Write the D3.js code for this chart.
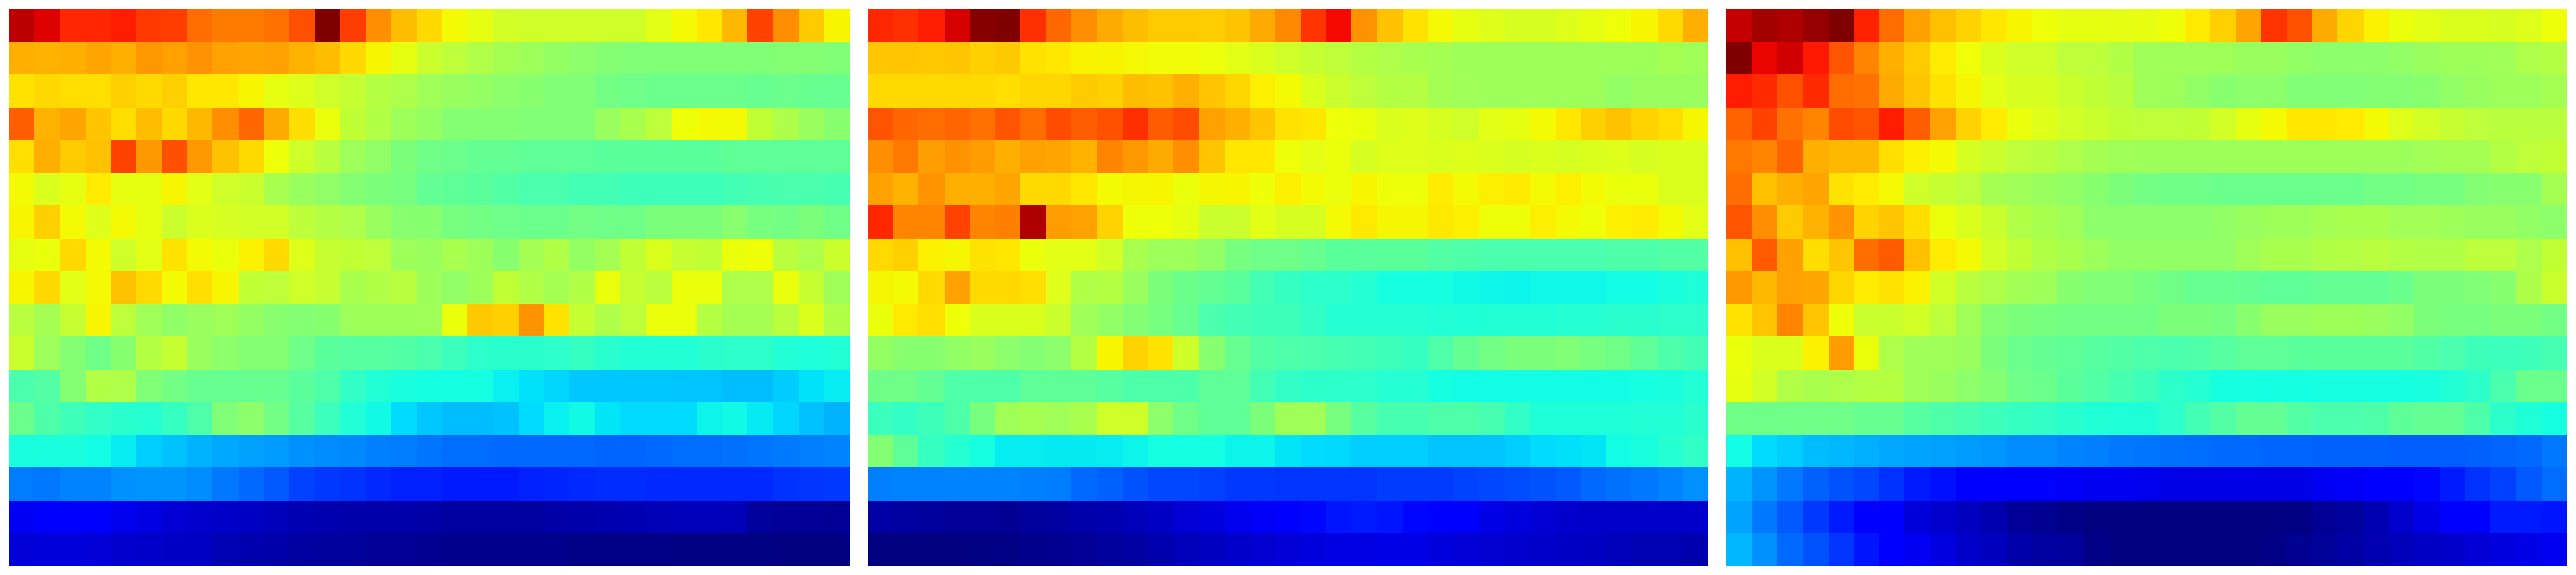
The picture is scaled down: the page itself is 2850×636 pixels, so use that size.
<!DOCTYPE html>
<html>
<head>
<meta charset="utf-8">
<style>html,body{margin:0;padding:0;background:#fff;overflow:hidden}svg{display:block}</style>
<script src="https://cdn.jsdelivr.net/npm/d3@7/dist/d3.min.js"></script>
</head>
<body>
<svg id="chart" width="2850" height="636"></svg>
<script>
const leftPanel = [
[95,92,87,87,88,85,84.5,79.5,78,78,79,82.5,100,84.5,76,71,68,64.5,63,60.5,60,60,60,60,60,62.5,64.5,66.5,71.5,84,76,69.5,65],
[72.5,72,72.5,73.5,72.5,75,74,75.5,74,73.5,74,72,71,68,65,63,59.5,58,56.5,55,54,53,52,51,50.5,50.5,50.5,50.5,50.5,50.5,51,51,50.5],
[67,68,67.5,67.5,69,68,69,66.5,66.5,65,63,62,60,59,57,56,54.5,53.5,53,52,51.5,50.5,50.5,49,48.5,48,48,48,48,47.5,48,47.5,47.5],
[81,72,73.5,70,67.5,71,68,71.5,76,80,73,67.5,63.5,58.5,56.5,54,53,51,51,51,50.5,50.5,50.5,53.5,55.5,58,64,64.5,64.5,58.5,56,53.5,51.5],
[67.5,72.5,69.5,70.5,84,75,82.5,75,70.5,68,64,60,57.5,54,52.5,50,48.5,48,47,47,46.5,46.5,46.5,46,46,46,46,46,46.5,46.5,46.5,46.5,46.5],
[64.5,61.5,63,66,63,63,65,62.5,60,59.5,55.5,53.5,52.5,51,50,49.5,47,46.5,46,45,44,44,43,43,42.5,42.5,42.5,42.5,43,43.5,44,44,43.5],
[65,69,64.5,62,64.5,63,59.5,61.5,61,60.5,60.5,58,57,56,53.5,51.5,51.5,49.5,49,48.5,48,48,49,48.5,48.5,50,50,50,51.5,49.5,49,50,48.5],
[63,63.5,68,64.5,60,62.5,67,64.5,63.5,65.5,68,62,59,58.5,58,54,53.5,55.5,54,51.5,55,56.5,53,55,58.5,61.5,59,58.5,63.5,64,57.5,56,59.5],
[65,68,62.5,64.5,70.5,68,64.5,67.5,65,58.5,58,60,59,55.5,56.5,57.5,54,52.5,54,58.5,56.5,55,56.5,63.5,59,57.5,63.5,63.5,56,56,63.5,59,54.5],
[57.5,55,59,65,58,54.5,52.5,53.5,54.5,53,51.5,51,51.5,54,54,54,54.5,63.5,69.5,69,75.5,67,59,56,58,63.5,63.5,57,55,55,57.5,61.5,56.5],
[59.5,54,51,48.5,51.5,57,59,53.5,52,51,51,48.5,46,45.5,45.5,45,44,42,40.5,40,40,40.5,41.5,40,39,39,39,40,40.5,40.5,39,38.5,39],
[44,45,51,56.5,56,50.5,49,47.5,47.5,47.5,47.5,46,44.5,41,39,38,37.5,37.5,37.5,36,34.7,33.5,32,32,32,32,31.7,31.7,31,31,32.5,34.7,35.7],
[48,44.5,42.5,41,40,39.5,41.5,44.5,50.5,52,49,45.5,42,39,37,34,32,31,31,31.5,34,36,37,35,34,34,34,36.5,37,35.5,33.5,31.5,30],
[38,38,38,37.3,35.7,32.7,31.5,30,29,28.2,27.7,26.7,26.2,25.8,25,24.7,24,23.2,23.2,22.8,22.8,22.8,22.8,22.4,22.4,22.8,23.2,23.2,23.6,24,24.6,25,25.3],
[24.7,24.3,25.3,25.3,26.7,27,27,26.2,24.3,22.8,21.3,19,18,17.4,16.4,15.6,15.6,15,15,15,15.6,16,16.4,16.8,16.8,16.4,16.4,16.4,16.4,16.4,17.4,17.8,18],
[10,11.5,11.5,11.5,9.5,8.5,7.3,6.7,6.3,5.7,5,4.4,4,3.7,3.7,3.7,3.3,2.9,2.9,2.9,2.9,3.3,3.7,4,4.4,4.8,5,5,4.8,2.5,2.2,2,1.8],
[7.5,7.8,7.8,7.5,6.7,6.3,6,5.7,4.5,4,3.7,2.9,2.5,2.5,1.8,1.8,1.4,1,1,1,1,1,0.6,0.6,0.6,0.6,0.3,0.3,0.3,0.2,0,0,0]
];
const middlePanel = [
[87,86,88,92.5,99.5,100,86,80,76,73,71,69.5,69.5,69.2,70.3,73,76.5,85.5,90,75.5,70.5,67,64.5,63,62,61,61,62,63,64,65,68,72.5],
[70,70,69.8,70,69,69.5,67,66.5,65.3,65.2,64.7,64.3,64.3,63.8,62.5,61.5,60,59,58,57,56,55.5,55,54,54,54,54,54,54,54,54,55,54.5],
[68,68,68,68,68,67.5,68.5,68.3,69.5,69,71,70.5,72.5,70,68.5,65.7,64.5,61.5,59.5,58,57,57,55,54.5,54,54,54,54,54,52.7,53.5,53.5,53.5],
[82,80,79.5,80.3,79,82,79.5,83,81,82.5,86,81.3,83,74,72.5,70,67,66.5,64,63.5,61.5,62,61,60,62.5,63,64.5,66.5,69,70.5,68.7,67.5,64.8],
[76,78.3,74.3,75.5,74.5,72.5,74,73.5,72,77,75,73,76,70,66.5,66.5,64,62.7,63.5,61,62,62,61.5,62,61.5,61,61.5,61,61.5,62,61,61.5,61.5],
[74,72,75.3,72.5,72.5,73.5,68,68,66.5,64.5,64.8,65,63.5,64.8,65,64,65.7,64.5,63.5,65,64,64,66,64.5,65.7,66.2,64.5,65.7,64.5,63.5,63.5,61.5,61.5],
[87,77,77,84,77,77.5,96,74.5,74,68.7,64,64,63,59.5,59.5,62.5,61,61,64.5,66.3,64.8,64.8,66.3,65.7,64,64,65.7,64.5,64,65.7,66,64.5,62.5],
[68,69,65.5,64.8,67,66.5,63.5,62.5,62.5,60.5,55.5,54,54,52.7,49.5,48.5,48.5,47.5,46,46,46,46,45,44.5,44,44,44,44,44,44.5,44.5,45,45],
[64.8,64.5,68,74,68,68,67.5,62,56.5,57,53.5,50,48,47,46,43,41.5,40.5,40.5,39.5,37.7,37.7,37.7,37,36.7,36.5,36.8,36.8,36.8,37.3,37.3,38,38.7],
[63.5,66.3,67.5,64,61.5,61.5,61.5,59.5,54.5,52.7,51,49.5,47.5,44,43,42.5,42.5,41,39.5,39.5,39.5,39.5,39,38.7,39,39,39,39.5,39.5,40,40,40.5,40.5],
[53,51.5,51.5,52.7,53.5,52,51,52,56.7,65,68.7,67,60,51.5,47.5,45,44.5,44,43.5,43,42.5,41.5,44.5,47,49,50,50,50.5,49.5,48.5,46.5,44.5,43],
[48.5,48.5,47,44.5,44.5,44.5,46.5,46.5,46.5,45.5,44.5,44.5,44.5,46.5,46.5,43,41,40.5,40.5,40.5,39.5,39.5,37.7,37.3,37.3,37.3,37.3,37.3,37.3,37.3,37.7,38,39],
[42,41,42.5,44.5,49.5,54.5,55,54.5,55.5,60,60,52,48.5,46.5,46.5,50,54.5,54.5,49.5,45.5,43.5,43.5,44.5,44.5,43.5,41,38.7,38.7,38.7,38.7,39,39,40],
[51,46.5,41.5,39.5,37.7,35.7,35.7,35.4,35.4,35.7,36.5,37.5,37.5,37.5,36.5,36.5,35,34,33.8,32.7,32.7,32.7,31.7,31.7,31.7,32.7,34,34.5,35,37.3,38,39.5,41],
[25,25.3,25.3,25.3,25.3,25.3,25,24.7,22.8,22,20.5,19.5,19.5,18.8,18,18,17.7,17.7,17.7,17.7,18.3,18.3,18.3,19,19.5,20,20.5,21.3,22.8,23.6,24.3,25.3,26.7],
[3.3,2.9,2.5,2.2,2.2,1.8,2.5,2.9,3.7,4,5,6,7.3,8,9.5,10.5,11.5,13,14.5,15,14.5,13,11.5,11.5,9,8,7.3,6.7,6.3,6.3,6.3,6.3,6.5],
[0,0,0,0,0.2,0.4,1,1.3,2,2.5,3,4,5,5.5,6.5,7,7.5,8,8.5,8.5,8.8,8.8,8,7.5,7,6.7,6.3,6,5.5,5,4.5,4.5,4]
];
const rightPanel = [
[94,97,96,98,100,87.5,79.5,74,70.7,68.7,66.5,65,64,63,63,62.7,63,64,66.2,69,73.5,85.5,82.5,73,68.5,65.5,63.5,62.5,61.5,61.5,61,62,64],
[100,90.7,93,88.5,82,77,72.5,69.5,66,64,61.5,60,60,58,58,56.5,54.5,54.5,54.5,54.5,53.5,53.5,52.7,52,52,52,52.7,53.5,54,54,54.5,56,56.7],
[88,86.5,82.5,86.5,79.5,79,73,70,67,64.8,62.5,61,61,59.5,58.5,57.5,54.5,54,52.7,51.5,52,52,50.5,50.5,50.5,51,51,51.5,52.7,53.5,54,54,55],
[80.5,84,79,77,83,82,88,81,74,68.7,66,63.5,62,60.5,59.5,58.5,58,58,58.5,60.5,63,64.5,66.5,66.5,66,64.5,62,60.5,59,58,57.5,57.5,57.5],
[78.3,77,80.5,72.5,71.5,71.5,67.5,65.7,64.5,61,59.5,58,57.5,56,55,54.5,54,54,54,54,54,54,54,54,54,54,54,54.7,55,55,56.7,58,58.5],
[79.5,70.7,72.5,73.5,67,66,64.5,60,59,58,55,54.5,53.5,52.7,51.5,50,49,48.5,48.5,48,48,48,48,48,48,49,49,49.5,49.5,51,51.5,51.5,55],
[82,76,69.5,72,75.3,68.7,70,67.5,63.5,61.5,59.5,56.5,55.5,54.5,52,52,52,52,52,52.7,53.5,54,54,55,55.5,55.5,54.7,54.7,54,53.5,53.5,52.7,52],
[70.7,81.5,74,67.5,70,79.5,81.5,70.7,66,64.5,60.5,58.5,56.5,55.5,54,52.7,52.7,52.7,52.7,52.7,54.5,55.5,55.5,56.5,56.7,57.5,56.7,56.5,56.5,58,58,56,58.5],
[75,71.5,74,73.5,68.5,66,67,65.5,60.5,57.5,56,54.7,54,51.5,50.5,50.5,49.5,48.5,47.5,47.5,47,46.5,46.5,47,47,47,48,50,50,50.5,51.5,56,59.5],
[67,70,77,70,64,59.5,59.5,60.5,58,54.5,51,50,49.5,49,49,49,49,50,50,49.5,51.5,53.5,53.5,54,54,53.5,52.7,50,49.5,49.5,50,50,49],
[63.5,61.5,61.5,65.5,74.5,63.5,56,54.5,54.5,53.5,50,48,47,46.5,45.5,45,44.5,44,44.5,45.5,46.5,46.5,46,46,46,46,46,45,44,42.5,42,42.5,43.5],
[63,60.5,56.5,55.5,56,57,57,54.5,53.5,52,51,48.5,48,46,45,43.5,42.5,40.5,39.5,37.7,37.7,37.5,37.5,37.7,37.7,37.7,37.7,38,39,40.5,44,48,48],
[48.5,48.5,48.5,48.5,48.5,47.5,47.5,45.5,44.5,43.5,42.5,41.5,41,40,39,38.7,38.7,40.5,43,45,47,47,45,44,44,44.5,46.5,47,47,44.5,40.5,38.7,37.7],
[37.3,34,32.7,31,30.5,29.7,29,28.5,28.2,27.7,27.2,26.2,26.2,25.3,25,24.3,24,23.6,23.2,22.8,22.8,22.4,22.4,22,22,22,21.7,21.7,21.7,22,22.4,22.8,24.3],
[30,27,24.3,22,20.5,19.5,17.4,15,14,12,11,11,11,10.5,10,10,9.5,9,9,9,9,9,9,10,10.5,11,11,13,15,17.4,18.8,21.3,23.2],
[28.5,24.3,21.3,18,15,11.5,11.5,7.8,6.7,5.4,4,2.2,1.5,0.5,0,0,0,0,0,0,0,0,0.3,1.7,2.5,4.4,6.7,9,11.5,12,15,15,14.5],
[30.5,26.7,22.8,20.5,17.7,14.5,11.5,10,8.3,6.3,5.4,3.7,2.9,2.5,0.5,0,0,0,0,0,0,0.5,1.5,2.3,3.2,4.3,5,5.7,6.3,7.3,8.2,9,10]
];
const panels = [leftPanel, middlePanel, rightPanel];

// Matplotlib "jet" channel stops
const jetR = d3.scaleLinear().domain([0, 35, 66, 89, 100]).range([0, 0, 255, 255, 128]).clamp(true);
const jetG = d3.scaleLinear().domain([0, 12.5, 37.5, 64, 91, 100]).range([0, 0, 255, 255, 0, 0]).clamp(true);
const jetB = d3.scaleLinear().domain([0, 11, 34, 65, 100]).range([128, 255, 255, 0, 0]).clamp(true);
const jet = v => d3.rgb(jetR(v), jetG(v), jetB(v)).formatHex();

const chartW = 2850, panelGap = 20, sideMargin = 10, plotTop = 10, plotBottom = 626;
const panelX = d3.scaleBand().domain(d3.range(panels.length)).range([0, chartW])
  .paddingInner(panelGap / (chartW / 3)).paddingOuter(sideMargin / (chartW / 3));

const svg = d3.select('#chart');
panels.forEach((rows, p) => {
  const x = d3.scaleLinear().domain([0, rows[0].length]).range([panelX(p), panelX(p) + panelX.bandwidth()]);
  const y = d3.scaleLinear().domain([0, rows.length]).range([plotTop, plotBottom]);
  const g = svg.append('g').attr('shape-rendering', 'crispEdges');
  const cells = rows.flatMap((row, r) => row.map((v, c) => ({ r, c, v })));
  g.selectAll('rect').data(cells).join('rect')
    .attr('x', d => Math.round(x(d.c)))
    .attr('y', d => Math.round(y(d.r)))
    .attr('width', d => Math.round(x(d.c + 1)) - Math.round(x(d.c)))
    .attr('height', d => Math.round(y(d.r + 1)) - Math.round(y(d.r)))
    .attr('fill', d => jet(d.v));
});
</script>
</body>
</html>
